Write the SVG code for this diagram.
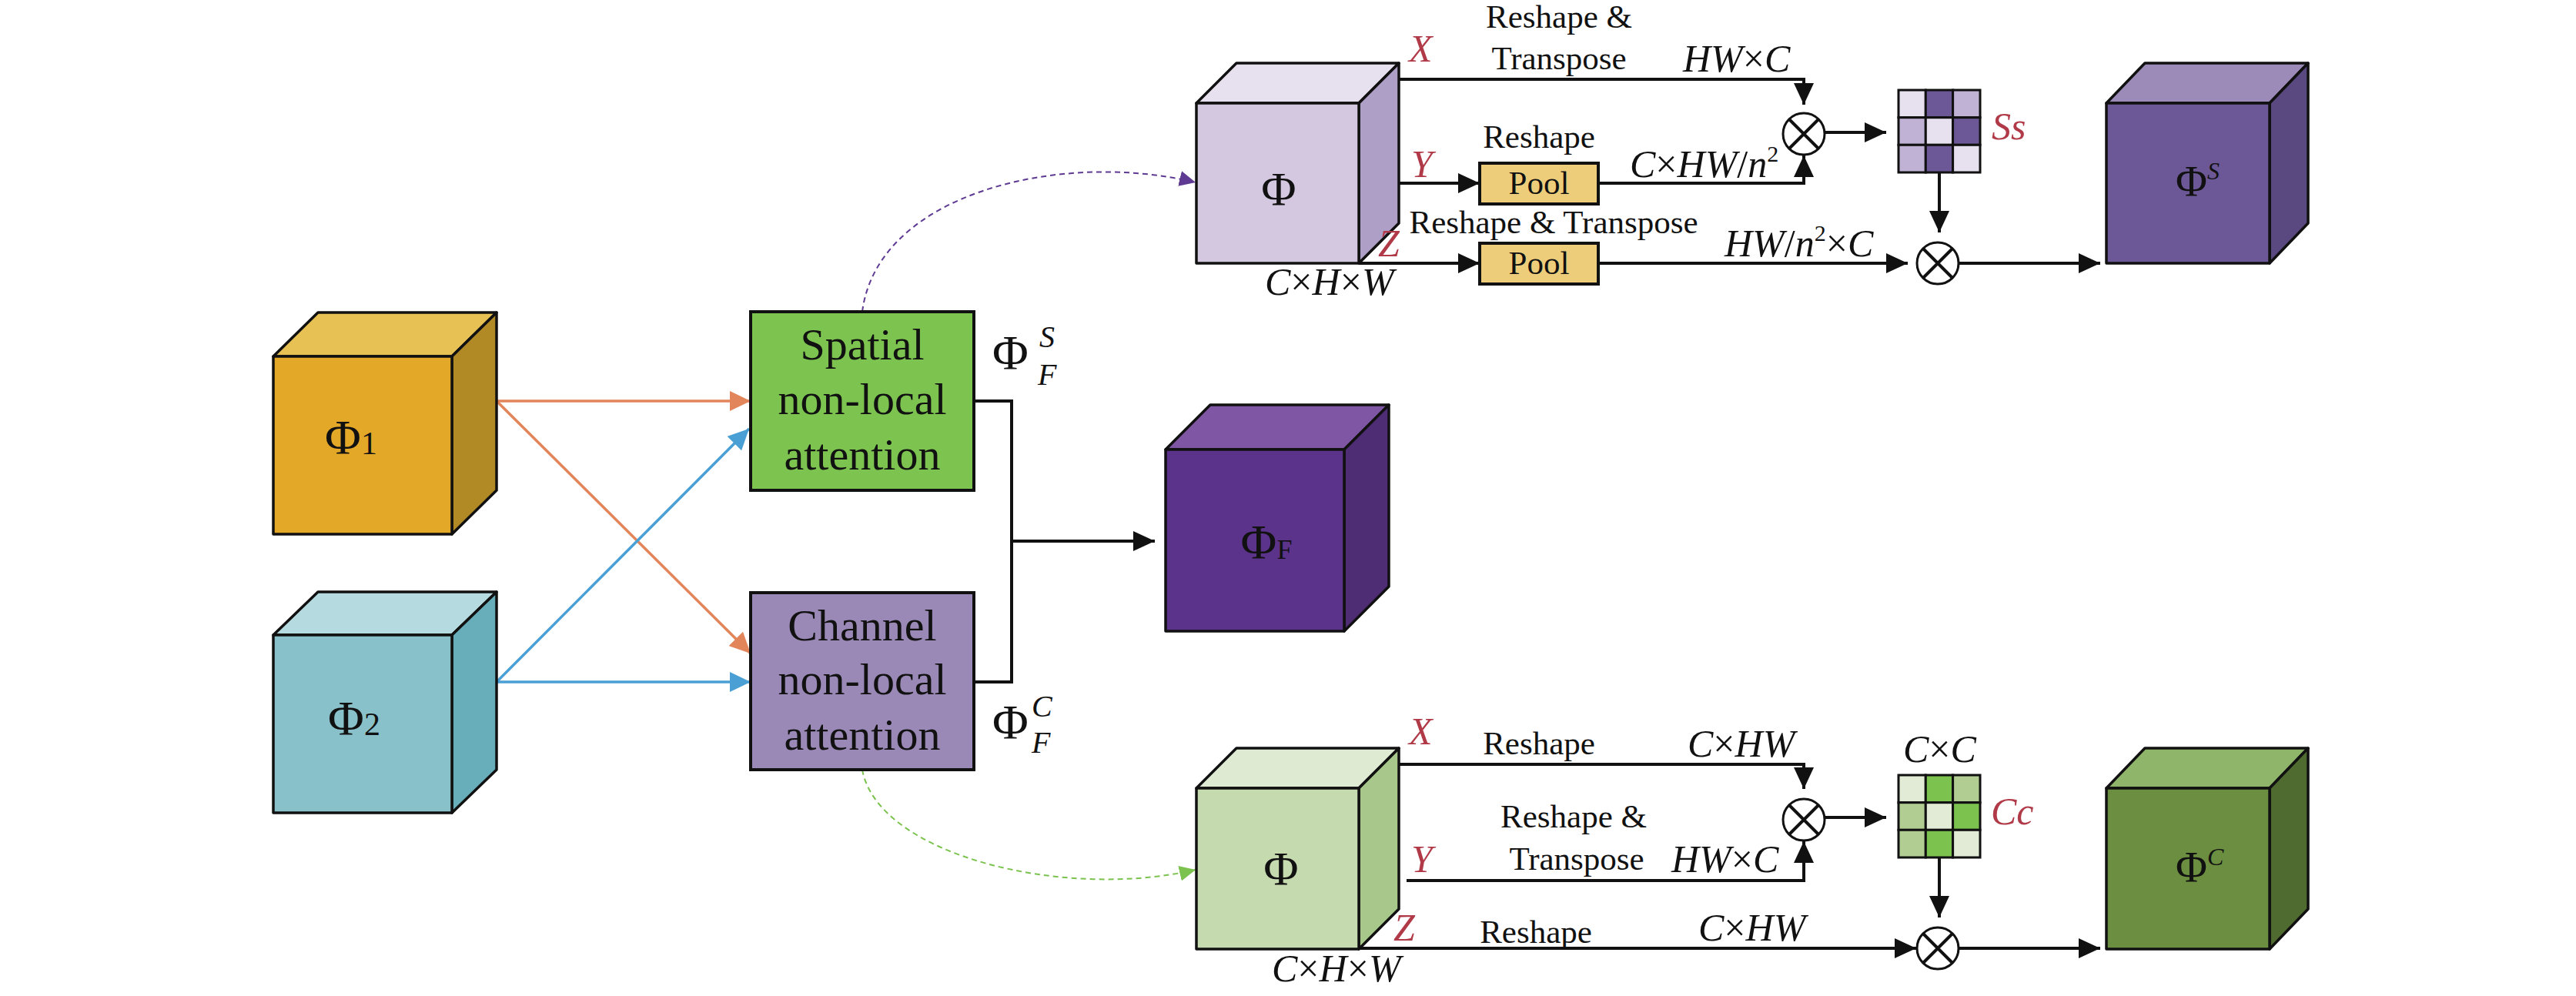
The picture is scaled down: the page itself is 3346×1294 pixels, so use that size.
<svg xmlns="http://www.w3.org/2000/svg" width="3346" height="1294" viewBox="0 0 3346 1294">
<style>
text{font-family:"Liberation Serif","Times New Roman",serif;fill:#111}
.lbl{font-size:43px}
.m{font-size:50px;font-style:italic}
.n{font-style:normal}
.red{fill:#b03a48}
.phi{font-size:64px}
.cube{stroke:#111;stroke-width:3.5;stroke-linejoin:round}
.box{stroke:#111;stroke-width:4}
.e{stroke:#111;stroke-width:4;fill:none}
.cell{stroke:#111;stroke-width:3}
.ot{fill:#fff;stroke:#111;stroke-width:3}
</style>
<defs>
<marker id="ab" markerUnits="userSpaceOnUse" markerWidth="28" markerHeight="26" refX="28" refY="13" orient="auto"><path d="M0,0 L28,13 L0,26 z" fill="#111"/></marker>
<marker id="ao" markerUnits="userSpaceOnUse" markerWidth="27" markerHeight="26" refX="27" refY="13" orient="auto"><path d="M0,0 L27,13 L0,26 z" fill="#e2855a"/></marker>
<marker id="abl" markerUnits="userSpaceOnUse" markerWidth="27" markerHeight="26" refX="27" refY="13" orient="auto"><path d="M0,0 L27,13 L0,26 z" fill="#4a9fd5"/></marker>
<marker id="ap" markerUnits="userSpaceOnUse" markerWidth="21" markerHeight="20" refX="21" refY="10" orient="auto"><path d="M0,0 L21,10 L0,20 z" fill="#5e3a92"/></marker>
<marker id="ag" markerUnits="userSpaceOnUse" markerWidth="21" markerHeight="20" refX="21" refY="10" orient="auto"><path d="M0,0 L21,10 L0,20 z" fill="#7bc24f"/></marker>
</defs>
<rect width="3346" height="1294" fill="#fff"/>

<!-- connectors -->
<g id="connectors">
<line x1="645" y1="521" x2="975" y2="521" stroke="#e2855a" stroke-width="3.5" marker-end="url(#ao)"/>
<line x1="645" y1="521" x2="975" y2="849" stroke="#e2855a" stroke-width="3.5" marker-end="url(#ao)"/>
<line x1="645" y1="886" x2="975" y2="886" stroke="#4a9fd5" stroke-width="3.5" marker-end="url(#abl)"/>
<line x1="645" y1="886" x2="973" y2="557" stroke="#4a9fd5" stroke-width="3.5" marker-end="url(#abl)"/>
<path class="e" d="M1265,521 H1314 V886 H1265"/>
<path class="e" d="M1314,703 H1500" marker-end="url(#ab)"/>
<path d="M1120,405 C1140,250 1380,195 1553,237" fill="none" stroke="#5e3a92" stroke-width="2" stroke-dasharray="7 5" marker-end="url(#ap)"/>
<path d="M1120,1000 C1140,1110 1380,1170 1553,1130" fill="none" stroke="#7bc24f" stroke-width="2" stroke-dasharray="7 5" marker-end="url(#ag)"/>
<!-- top branch -->
<path class="e" d="M1817,103 H2343 V136" marker-end="url(#ab)"/>
<path class="e" d="M1817,238 H1922" marker-end="url(#ab)"/>
<path class="e" d="M2076,238 H2343 V202" marker-end="url(#ab)"/>
<path class="e" d="M1765,342 H1922" marker-end="url(#ab)"/>
<path class="e" d="M2076,342 H2478" marker-end="url(#ab)"/>
<path class="e" d="M2371,172 H2450" marker-end="url(#ab)"/>
<path class="e" d="M2519,224 V302" marker-end="url(#ab)"/>
<path class="e" d="M2545,342 H2728" marker-end="url(#ab)"/>
<!-- bottom branch -->
<path class="e" d="M1817,993 H2343 V1025" marker-end="url(#ab)"/>
<path class="e" d="M1827,1144 H2343 V1093" marker-end="url(#ab)"/>
<path class="e" d="M1765,1232 H2489" marker-end="url(#ab)"/>
<path class="e" d="M2371,1062 H2450" marker-end="url(#ab)"/>
<path class="e" d="M2519,1114 V1192" marker-end="url(#ab)"/>
<path class="e" d="M2545,1232 H2728" marker-end="url(#ab)"/>
</g>

<!-- left cubes -->
<g id="phi1">
<polygon class="cube" points="355,463 413,406 645,406 587,463" fill="#e8c155"/>
<polygon class="cube" points="587,463 645,406 645,637 587,694" fill="#b18a26"/>
<rect class="cube" x="355" y="463" width="232" height="231" fill="#e4a829"/>
<text class="phi" x="456" y="590" text-anchor="middle">Φ<tspan font-size="42">1</tspan></text>
</g>
<g id="phi2">
<polygon class="cube" points="355,825 413,769 645,769 587,825" fill="#b5dadf"/>
<polygon class="cube" points="587,825 645,769 645,1000 587,1056" fill="#68adba"/>
<rect class="cube" x="355" y="825" width="232" height="231" fill="#88c1c9"/>
<text class="phi" x="460" y="955" text-anchor="middle">Φ<tspan font-size="42">2</tspan></text>
</g>

<g id="spatial">
<rect class="box" x="975" y="405" width="290" height="232" fill="#7cc34f"/>
<text x="1120" y="467" text-anchor="middle" font-size="58">Spatial</text>
<text x="1120" y="538" text-anchor="middle" font-size="58">non-local</text>
<text x="1120" y="610" text-anchor="middle" font-size="58">attention</text>
</g>
<g id="channel">
<rect class="box" x="975" y="770" width="290" height="230" fill="#9a89b6"/>
<text x="1120" y="832" text-anchor="middle" font-size="58">Channel</text>
<text x="1120" y="902" text-anchor="middle" font-size="58">non-local</text>
<text x="1120" y="974" text-anchor="middle" font-size="58">attention</text>
</g>

<g id="phiFS-label">
<text class="phi" x="1289" y="480">Φ</text>
<text x="1350" y="451" font-size="40" font-style="italic">S</text>
<text x="1348" y="500" font-size="40" font-style="italic">F</text>
</g>
<g id="phiFC-label">
<text class="phi" x="1289" y="960">Φ</text>
<text x="1340" y="931" font-size="40" font-style="italic">C</text>
<text x="1340" y="978" font-size="40" font-style="italic">F</text>
</g>

<g id="phiF">
<polygon class="cube" points="1514,584 1572,526 1804,526 1746,584" fill="#7e56a4"/>
<polygon class="cube" points="1746,584 1804,526 1804,762 1746,820" fill="#4e2d74"/>
<rect class="cube" x="1514" y="584" width="232" height="236" fill="#5c338b"/>
<text class="phi" x="1645" y="726" text-anchor="middle">Φ<tspan font-size="36">F</tspan></text>
</g>

<!-- top spatial branch -->
<g id="phi-top">
<polygon class="cube" points="1554,134 1606,82 1817,82 1765,134" fill="#e7e0ef"/>
<polygon class="cube" points="1765,134 1817,82 1817,290 1765,342" fill="#ae9fc7"/>
<rect class="cube" x="1554" y="134" width="211" height="208" fill="#d4c8e1"/>
<text x="1661" y="266" text-anchor="middle" font-size="62">Φ</text>
</g>
<g id="top-labels">
<text class="m red" x="1830" y="80">X</text>
<text class="m red" x="1833" y="230">Y</text>
<text class="m red" x="1790" y="333">Z</text>
<text class="lbl" x="2025" y="36" text-anchor="middle">Reshape &amp;</text>
<text class="lbl" x="2025" y="90" text-anchor="middle">Transpose</text>
<text class="m" x="2186" y="93">HW<tspan class="n">×</tspan>C</text>
<text class="lbl" x="1999" y="192" text-anchor="middle">Reshape</text>
<text class="m" x="2117" y="230">C<tspan class="n">×</tspan>HW<tspan class="n">/</tspan>n<tspan class="n" font-size="30" dy="-20">2</tspan></text>
<text class="lbl" x="2018" y="303" text-anchor="middle">Reshape &amp; Transpose</text>
<text class="m" x="2240" y="333">HW<tspan class="n">/</tspan>n<tspan class="n" font-size="30" dy="-20">2</tspan><tspan class="n" dy="20">×</tspan>C</text>
<text class="m" x="1643" y="383">C<tspan class="n">×</tspan>H<tspan class="n">×</tspan>W</text>
</g>
<g id="pool1">
<rect class="box" x="1922" y="212" width="154" height="53" fill="#eecd7a" stroke-width="3.5"/>
<text class="lbl" x="1999" y="252" text-anchor="middle">Pool</text>
</g>
<g id="pool2">
<rect class="box" x="1922" y="316" width="154" height="53" fill="#eecd7a" stroke-width="3.5"/>
<text class="lbl" x="1999" y="356" text-anchor="middle">Pool</text>
</g>
<g id="otimes1">
<circle class="ot" cx="2343" cy="174" r="27"/>
<path class="e" stroke-width="3" d="M2324,155 L2362,193 M2362,155 L2324,193"/>
</g>
<g id="otimes2">
<circle class="ot" cx="2517" cy="342" r="27"/>
<path class="e" stroke-width="3" d="M2498,323 L2536,361 M2536,323 L2498,361"/>
</g>
<g id="Ss">
<rect class="cell" x="2466" y="117" width="35.3" height="35.7" fill="#e7e0ee"/>
<rect class="cell" x="2501.3" y="117" width="35.3" height="35.7" fill="#6c5896"/>
<rect class="cell" x="2536.6" y="117" width="35.4" height="35.7" fill="#bfb2d4"/>
<rect class="cell" x="2466" y="152.7" width="35.3" height="35.6" fill="#bfb2d4"/>
<rect class="cell" x="2501.3" y="152.7" width="35.3" height="35.6" fill="#e7e0ee"/>
<rect class="cell" x="2536.6" y="152.7" width="35.4" height="35.6" fill="#6c5896"/>
<rect class="cell" x="2466" y="188.3" width="35.3" height="35.7" fill="#bfb2d4"/>
<rect class="cell" x="2501.3" y="188.3" width="35.3" height="35.7" fill="#6c5896"/>
<rect class="cell" x="2536.6" y="188.3" width="35.4" height="35.7" fill="#e7e0ee"/>
<text class="m red" x="2587" y="181">Ss</text>
</g>
<g id="phiS">
<polygon class="cube" points="2736,134 2786,82 2998,82 2948,134" fill="#9c8ab8"/>
<polygon class="cube" points="2948,134 2998,82 2998,290 2948,342" fill="#5a4880"/>
<rect class="cube" x="2736" y="134" width="212" height="208" fill="#6d5897"/>
<text x="2826" y="255" font-size="56">Φ<tspan font-size="32" font-style="italic" dy="-22">S</tspan></text>
</g>

<!-- bottom channel branch -->
<g id="phi-bottom">
<polygon class="cube" points="1554,1024 1606,972 1817,972 1765,1024" fill="#dfead2"/>
<polygon class="cube" points="1765,1024 1817,972 1817,1181 1765,1233" fill="#a8c78a"/>
<rect class="cube" x="1554" y="1024" width="211" height="209" fill="#c6daaf"/>
<text x="1664" y="1149" text-anchor="middle" font-size="62">Φ</text>
</g>
<g id="bottom-labels">
<text class="m red" x="1830" y="967">X</text>
<text class="m red" x="1833" y="1133">Y</text>
<text class="m red" x="1810" y="1222">Z</text>
<text class="lbl" x="1999" y="980" text-anchor="middle">Reshape</text>
<text class="m" x="2192" y="983">C<tspan class="n">×</tspan>HW</text>
<text class="lbl" x="2044" y="1075" text-anchor="middle">Reshape &amp;</text>
<text class="lbl" x="2048" y="1130" text-anchor="middle">Transpose</text>
<text class="m" x="2171" y="1133">HW<tspan class="n">×</tspan>C</text>
<text class="lbl" x="1995" y="1225" text-anchor="middle">Reshape</text>
<text class="m" x="2206" y="1222">C<tspan class="n">×</tspan>HW</text>
<text class="m" x="1652" y="1275">C<tspan class="n">×</tspan>H<tspan class="n">×</tspan>W</text>
<text class="m" x="2472" y="990">C<tspan class="n">×</tspan>C</text>
</g>
<g id="otimes3">
<circle class="ot" cx="2343" cy="1065" r="27"/>
<path class="e" stroke-width="3" d="M2324,1046 L2362,1084 M2362,1046 L2324,1084"/>
</g>
<g id="otimes4">
<circle class="ot" cx="2517" cy="1232" r="27"/>
<path class="e" stroke-width="3" d="M2498,1213 L2536,1251 M2536,1213 L2498,1251"/>
</g>
<g id="Cc">
<rect class="cell" x="2466" y="1007" width="35.3" height="35.7" fill="#e2ebd5"/>
<rect class="cell" x="2501.3" y="1007" width="35.3" height="35.7" fill="#7bc24f"/>
<rect class="cell" x="2536.6" y="1007" width="35.4" height="35.7" fill="#b2cd92"/>
<rect class="cell" x="2466" y="1042.7" width="35.3" height="35.6" fill="#b2cd92"/>
<rect class="cell" x="2501.3" y="1042.7" width="35.3" height="35.6" fill="#e2ebd5"/>
<rect class="cell" x="2536.6" y="1042.7" width="35.4" height="35.6" fill="#7bc24f"/>
<rect class="cell" x="2466" y="1078.3" width="35.3" height="35.7" fill="#b2cd92"/>
<rect class="cell" x="2501.3" y="1078.3" width="35.3" height="35.7" fill="#7bc24f"/>
<rect class="cell" x="2536.6" y="1078.3" width="35.4" height="35.7" fill="#e2ebd5"/>
<text class="m red" x="2586" y="1071">Cc</text>
</g>
<g id="phiC">
<polygon class="cube" points="2736,1024 2786,972 2998,972 2948,1024" fill="#8fb56a"/>
<polygon class="cube" points="2948,1024 2998,972 2998,1181 2948,1233" fill="#4f6b30"/>
<rect class="cube" x="2736" y="1024" width="212" height="209" fill="#6b8e41"/>
<text x="2826" y="1146" font-size="56">Φ<tspan font-size="32" font-style="italic" dy="-22">C</tspan></text>
</g>
</svg>
